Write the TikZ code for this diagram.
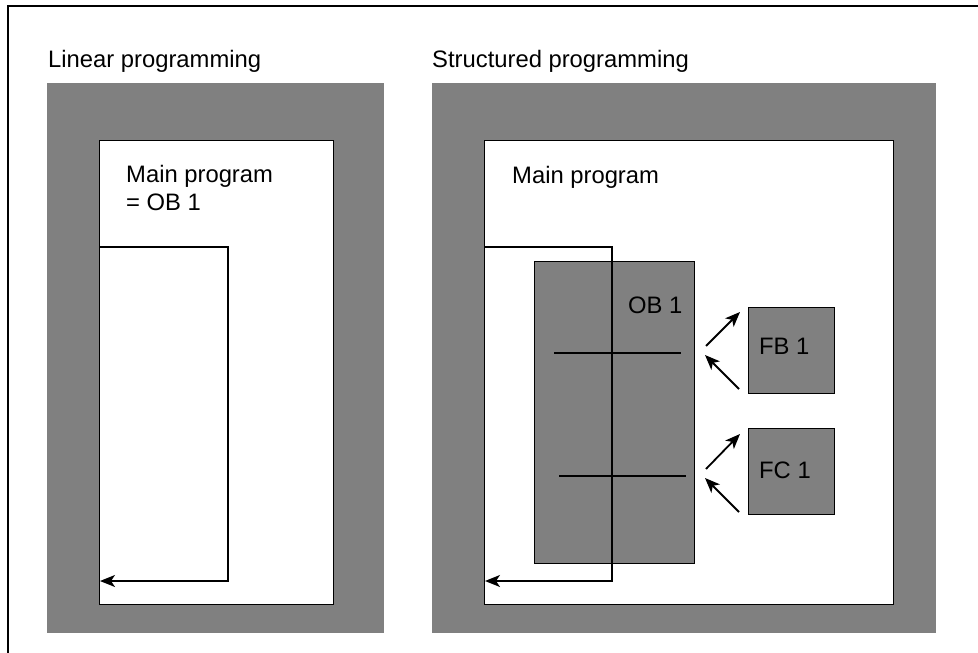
\documentclass[tikz,border=0pt]{standalone}
\usepackage{fontspec}
\setmainfont{Liberation Sans}
\usetikzlibrary{arrows.meta}

\definecolor{blockgray}{RGB}{128,128,128}

\tikzset{
  panel/.style={fill=blockgray, inner sep=0pt, outer sep=0pt, anchor=north west},
  area/.style={draw, fill=white, line width=1pt, inner sep=0pt, outer sep=0pt, anchor=north west},
  block/.style={draw, fill=blockgray, line width=1pt, inner sep=0pt, outer sep=0pt, anchor=north west},
  caption/.style={inner sep=0pt, anchor=base west, font=\fontsize{23.8}{28}\selectfont},
  jump/.style={line width=1.8pt, -{Stealth[length=15pt,width=12pt,inset=4pt]}},
  rung/.style={line width=1.8pt},
}

\begin{document}
\begin{tikzpicture}[x=1pt,y=-1pt]
  \useasboundingbox (0,0) rectangle (978,653);
  \draw[line width=1.5pt] (8,653) -- (8,6) -- (978,6);

  % linear programming
  \node[caption](LinTitle) at (48,67) {Linear programming};
  \node[panel, minimum width=337pt, minimum height=550pt](LinPanel) at (47,83) {};
  \node[area, minimum width=234pt, minimum height=464pt](LinMain) at (99,140) {};
  \node[caption, anchor=north west, align=left](LinText) at (126,165) {Main program\\= OB 1};

  \coordinate (LinIn) at (100,247);
  \coordinate (LinTurn) at (228,581);
  \coordinate (LinOut) at (100,581);
  \draw[jump] (LinIn) -| (LinTurn) -- (LinOut);

  % structured programming
  \node[caption](StrTitle) at (432,67) {Structured programming};
  \node[panel, minimum width=504pt, minimum height=550pt](StrPanel) at (432,83) {};
  \node[area, minimum width=409pt, minimum height=464pt](StrMain) at (484,140) {};
  \node[caption](StrText) at (512,183) {Main program};

  \node[block, minimum width=160pt, minimum height=302pt](OB) at (534,261) {};
  \node[caption](OBText) at (628,313) {OB 1};
  \node[block, minimum width=86pt, minimum height=86pt](FB) at (748,307) {};
  \node[caption](FBText) at (759,354) {FB 1};
  \node[block, minimum width=86pt, minimum height=86pt](FC) at (748,428) {};
  \node[caption](FCText) at (759,478) {FC 1};

  \coordinate (StrIn) at (485,247);
  \coordinate (StrTurn) at (612,581);
  \coordinate (StrOut) at (485,581);
  \draw[jump] (StrIn) -| (StrTurn) -- (StrOut);

  \draw[rung] (554,353) -- (681,353);
  \draw[rung] (559,476) -- (686,476);

  \coordinate (FBcall) at (706,346);
  \coordinate (FBin) at (740,312);
  \coordinate (FBout) at (739,389);
  \coordinate (FBret) at (705,355);
  \coordinate (FCcall) at (706,469);
  \coordinate (FCin) at (740,434);
  \coordinate (FCout) at (739,512);
  \coordinate (FCret) at (705,478);
  \draw[jump] (FBcall) -- (FBin);
  \draw[jump] (FBout) -- (FBret);
  \draw[jump] (FCcall) -- (FCin);
  \draw[jump] (FCout) -- (FCret);
\end{tikzpicture}
\end{document}
